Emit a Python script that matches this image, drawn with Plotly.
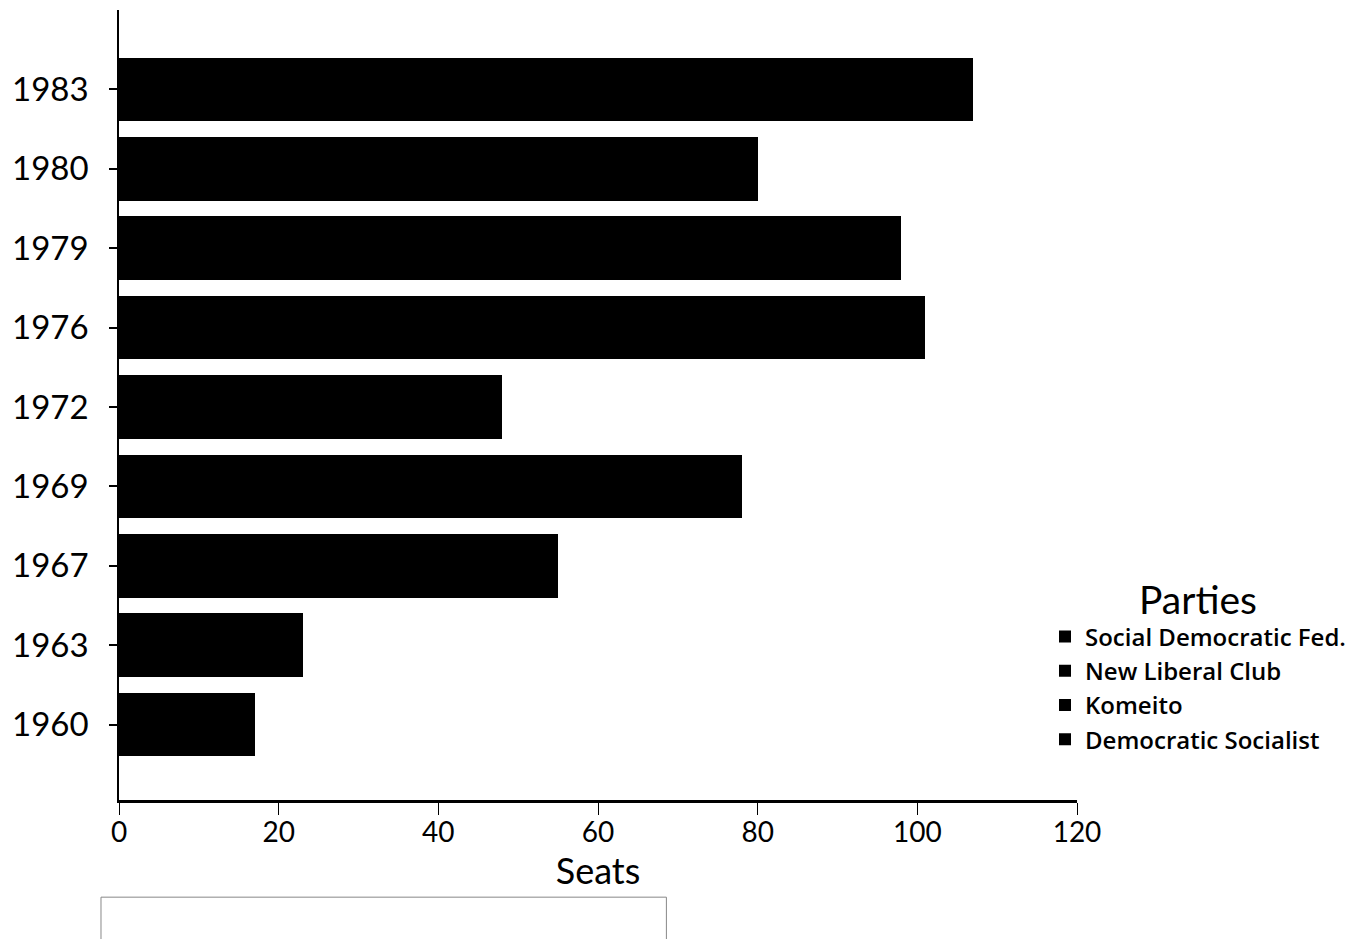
import plotly.graph_objects as go

years = ["1960", "1963", "1967", "1969", "1972", "1976", "1979", "1980", "1983"]
democratic_socialist = [17, 23, 30, 31, 19, 29, 35, 32, 38]
komeito = [0, 0, 25, 47, 29, 55, 57, 33, 58]
new_liberal_club = [0, 0, 0, 0, 0, 17, 4, 12, 8]
social_democratic_fed = [0, 0, 0, 0, 0, 0, 2, 3, 3]
x_ticks = [0, 20, 40, 60, 80, 100, 120]

series = [
    ("Democratic Socialist", democratic_socialist),
    ("Komeito", komeito),
    ("New Liberal Club", new_liberal_club),
    ("Social Democratic Fed.", social_democratic_fed),
]

FONT = "Lato, 'DejaVu Sans', sans-serif"

fig = go.Figure()
for name, vals in series:
    fig.add_trace(go.Bar(
        y=years, x=vals, name=name, orientation="h",
        marker=dict(color="black", line=dict(width=0)),
    ))

fig.update_layout(
    width=1356, height=931,
    margin=dict(l=111, r=287, t=2, b=139),
    paper_bgcolor="white", plot_bgcolor="white",
    barmode="stack", bargap=0.2,
    font=dict(family=FONT, color="black"),
    showlegend=True,
    legend=dict(
        x=0.9666, y=0.299, xanchor="left", yanchor="top",
        traceorder="reversed",
        title=dict(text="Parties", side="top center",
                   font=dict(size=39, family=FONT, weight="normal")),
        font=dict(size=24, family="'Open Sans', Lato, sans-serif", weight=600, color="black"),
        itemsizing="constant", tracegroupgap=0,
        bgcolor="rgba(0,0,0,0)",
    ),
    xaxis=dict(
        range=[0, 120], tickvals=x_ticks, ticktext=[str(v) for v in x_ticks],
        showgrid=False, zeroline=False, showline=True, linecolor="black", linewidth=2.5,
        ticks="outside", ticklen=12, tickwidth=1, tickcolor="black",
        ticklabelstandoff=-6,
        tickfont=dict(size=28), title=dict(text="Seats", font=dict(size=36), standoff=4),
    ),
    yaxis=dict(
        type="category", categoryorder="array", categoryarray=years,
        range=[-0.95, 9.0],
        showgrid=False, zeroline=False, showline=True, linecolor="black", linewidth=1.5,
        ticks="outside", ticklen=8, tickwidth=2, tickcolor="black",
        ticklabelstandoff=14,
        tickfont=dict(size=33),
    ),
)

fig.add_shape(type="rect", xref="paper", yref="paper",
              x0=-0.0188, x1=0.5714, y0=-0.123, y1=-0.25,
              line=dict(color="#888888", width=1), fillcolor="rgba(0,0,0,0)")

fig.write_html("out.html")
